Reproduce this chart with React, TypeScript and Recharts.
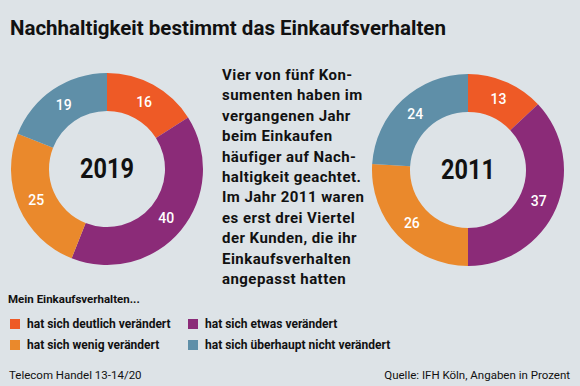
import React from "react";
import { Pie, PieChart } from "recharts";

const categories = [
  "hat sich deutlich verändert",
  "hat sich etwas verändert",
  "hat sich wenig verändert",
  "hat sich überhaupt nicht verändert",
];
const years = ["2019", "2011"];
const values2019 = [16, 40, 25, 19];
const values2011 = [13, 37, 26, 24];
const colors = ["#ee5a26", "#8b2b78", "#ea892c", "#5f8fa8"];

const paragraph = [
  "Vier von fünf Kon-",
  "sumenten haben im",
  "vergangenen Jahr",
  "beim Einkaufen",
  "häufiger auf Nach-",
  "haltigkeit geachtet.",
  "Im Jahr 2011 waren",
  "es erst drei Viertel",
  "der Kunden, die ihr",
  "Einkaufsverhalten",
  "angepasst hatten",
];

const BG = "#dde3e7";
const FONT = "Roboto, 'DejaVu Sans', sans-serif";
const RAD = Math.PI / 180;

const toRows = (values: number[]) =>
  categories.map((name, i) => ({ name, value: values[i], fill: colors[i] }));

const data2019 = toRows(values2019);
const data2011 = toRows(values2011);

// donut centres
const centres = [
  { cx: 107, cy: 169 },
  { cx: 468, cy: 170 },
];

function ringLabel(props: any) {
  const { cx, cy, midAngle, innerRadius, outerRadius, value } = props;
  const r = (innerRadius + outerRadius) / 2;
  const x = cx + r * Math.cos(-midAngle * RAD);
  const y = cy + r * Math.sin(-midAngle * RAD);
  return (
    <text x={x} y={y} fill="#fff" textAnchor="middle" dominantBaseline="central"
      fontFamily={FONT} fontSize={14} fontWeight={500}>
      {value}
    </text>
  );
}

export default function App() {
  return (
    <div style={{ position: "absolute", left: 0, top: 0, width: 580, height: 386, background: BG, fontFamily: FONT, color: "#111", overflow: "hidden" }}>
      <div style={{ position: "absolute", left: 10, top: 15, fontSize: 20.5, fontWeight: 700, lineHeight: "26px", whiteSpace: "nowrap" }}>
        Nachhaltigkeit bestimmt das Einkaufsverhalten
      </div>

      <div style={{ position: "absolute", left: 0, top: 0 }}>
        <PieChart width={580} height={386} margin={{ top: 0, right: 0, bottom: 0, left: 0 }}>
          <Pie data={data2019} dataKey="value" nameKey="name" cx={centres[0].cx} cy={centres[0].cy}
            innerRadius={58} outerRadius={96} startAngle={90} endAngle={-270}
            stroke="none" label={ringLabel} labelLine={false} isAnimationActive={false} />
          <Pie data={data2011} dataKey="value" nameKey="name" cx={centres[1].cx} cy={centres[1].cy}
            innerRadius={58} outerRadius={96} startAngle={90} endAngle={-270}
            stroke="none" label={ringLabel} labelLine={false} isAnimationActive={false} />
        </PieChart>
      </div>

      {years.map((year, i) => (
        <div key={year} style={{ position: "absolute", left: centres[i].cx - 50, top: centres[i].cy - 17, width: 100, height: 34, lineHeight: "34px", textAlign: "center", fontSize: 27, fontWeight: 700, transform: "scaleX(0.87)" }}>
          {year}
        </div>
      ))}

      <div style={{ position: "absolute", left: 222, top: 65, fontSize: 15, fontWeight: 700, letterSpacing: 0.45, lineHeight: "20.4px", whiteSpace: "nowrap" }}>
        {paragraph.map((line) => (
          <div key={line}>{line}</div>
        ))}
      </div>

      <div style={{ position: "absolute", left: 8, top: 292, fontSize: 11.5, fontWeight: 700, whiteSpace: "nowrap" }}>
        Mein Einkaufsverhalten...
      </div>

      {categories.map((name, i) => (
        <div key={name} style={{ position: "absolute", left: i % 2 === 0 ? 10 : 188, top: 317 + Math.floor(i / 2) * 21, display: "flex", alignItems: "center", whiteSpace: "nowrap", fontSize: 12, fontWeight: 700, height: 14 }}>
          <span style={{ display: "inline-block", width: 10, height: 10, background: colors[i], marginRight: 7 }} />
          {name}
        </div>
      ))}

      <div style={{ position: "absolute", left: 9, top: 368, fontSize: 11.5, whiteSpace: "nowrap" }}>
        Telecom Handel 13-14/20
      </div>
      <div style={{ position: "absolute", right: 10, top: 368, fontSize: 11.5, whiteSpace: "nowrap" }}>
        Quelle: IFH Köln, Angaben in Prozent
      </div>
    </div>
  );
}
